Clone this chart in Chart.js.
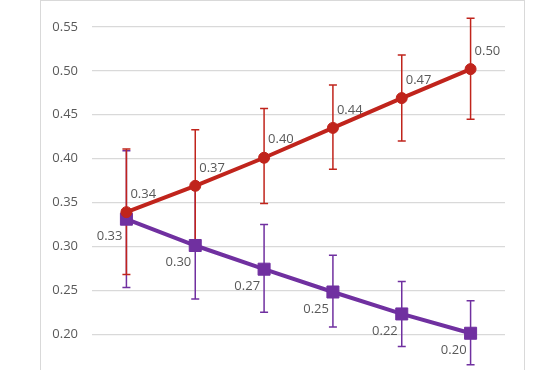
<!DOCTYPE html>
<html lang="en">
<head>
<meta charset="UTF-8">
<title>Chart</title>
<script src="https://cdn.jsdelivr.net/npm/chart.js"></script>
<style>
  html, body { margin: 0; padding: 0; overflow: hidden; background: #fff; }
  #frame { position: absolute; left: 40px; top: 0; width: 483px; height: 420px; border: 1px solid #d9d9d9; }
  #wrap { position: absolute; left: 0; top: 0; width: 555px; height: 400px; }
</style>
</head>
<body>
<div id="frame"></div>
<div id="wrap"><canvas id="chart" width="555" height="400"></canvas></div>
<script>
  const categories = ['1', '2', '3', '4', '5', '6'];

  const redValues = [0.339, 0.369, 0.401, 0.435, 0.469, 0.502];
  const redHigh   = [0.411, 0.433, 0.457, 0.484, 0.518, 0.560];
  const redLow    = [0.268, 0.303, 0.349, 0.388, 0.420, 0.445];
  const redLabels = ['0.34', '0.37', '0.40', '0.44', '0.47', '0.50'];

  const purpleValues = [0.331, 0.301, 0.274, 0.248, 0.223, 0.201];
  const purpleHigh   = [0.409, 0.368, 0.325, 0.290, 0.260, 0.238];
  const purpleLow    = [0.253, 0.240, 0.225, 0.208, 0.186, 0.165];
  const purpleLabels = ['0.33', '0.30', '0.27', '0.25', '0.22', '0.20'];

  const yTicks = [0.15, 0.20, 0.25, 0.30, 0.35, 0.40, 0.45, 0.50, 0.55];

  const RED = '#c0241c';
  const PURPLE = '#7030a0';
  const TEXT = '#595959';

  // error bars + data labels, positioned from the chart's own elements/scales
  const extras = {
    id: 'extras',
    beforeDatasetsDraw(chart) {
      const ctx = chart.ctx;
      const y = chart.scales.y;
      // last dataset first so the red bars sit on top
      for (let i = chart.data.datasets.length - 1; i >= 0; i--) {
        const ds = chart.data.datasets[i];
        const meta = chart.getDatasetMeta(i);
        ctx.save();
        ctx.strokeStyle = ds.borderColor;
        ctx.lineWidth = 1.5;
        meta.data.forEach((pt, j) => {
          const top = y.getPixelForValue(ds.errHigh[j]);
          const bot = y.getPixelForValue(ds.errLow[j]);
          ctx.beginPath();
          ctx.moveTo(pt.x, top); ctx.lineTo(pt.x, bot);
          ctx.moveTo(pt.x - 4, top); ctx.lineTo(pt.x + 4, top);
          ctx.moveTo(pt.x - 4, bot); ctx.lineTo(pt.x + 4, bot);
          ctx.stroke();
        });
        ctx.restore();
      }
    },
    afterDatasetsDraw(chart) {
      const ctx = chart.ctx;
      ctx.save();
      ctx.font = '13px "Open Sans", sans-serif';
      ctx.fillStyle = TEXT;
      ctx.textBaseline = 'middle';
      chart.data.datasets.forEach((ds, i) => {
        const meta = chart.getDatasetMeta(i);
        meta.data.forEach((pt, j) => {
          if (ds.labelSide === 'above') {
            ctx.textAlign = 'left';
            ctx.fillText(ds.valueLabels[j], pt.x + 4, pt.y - 18);
          } else {
            ctx.textAlign = 'right';
            ctx.fillText(ds.valueLabels[j], pt.x - 4, pt.y + 17);
          }
        });
      });
      ctx.restore();
    }
  };

  new Chart(document.getElementById('chart'), {
    type: 'line',
    data: {
      labels: categories,
      datasets: [
        {
          data: redValues,
          errHigh: redHigh,
          errLow: redLow,
          valueLabels: redLabels,
          labelSide: 'above',
          borderColor: RED,
          backgroundColor: RED,
          borderWidth: 4,
          pointStyle: 'circle',
          pointRadius: 5.5,
          pointBorderWidth: 1,
          pointHoverRadius: 5.5,
          order: 1
        },
        {
          data: purpleValues,
          errHigh: purpleHigh,
          errLow: purpleLow,
          valueLabels: purpleLabels,
          labelSide: 'below',
          borderColor: PURPLE,
          backgroundColor: PURPLE,
          borderWidth: 4,
          pointStyle: 'rect',
          pointRadius: 8.5,
          pointBorderWidth: 1,
          pointHoverRadius: 8.5,
          order: 2
        }
      ]
    },
    options: {
      responsive: false,
      animation: false,
      layout: { padding: { top: 27, right: 50, bottom: 22, left: 0 } },
      plugins: { legend: { display: false }, tooltip: { enabled: false } },
      scales: {
        x: { type: 'category', offset: true, display: false },
        y: {
          min: 0.15,
          max: 0.55,
          afterBuildTicks(scale) { scale.ticks = yTicks.map(v => ({ value: v })); },
          afterFit(scale) { scale.width = 92; },
          border: { display: false },
          grid: { color: '#d9d9d9', lineWidth: 1.2, drawTicks: false },
          ticks: {
            padding: 14,
            color: TEXT,
            font: { family: '"Open Sans", sans-serif', size: 13 },
            callback: v => v.toFixed(2)
          }
        }
      }
    },
    plugins: [extras]
  });
</script>
</body>
</html>
